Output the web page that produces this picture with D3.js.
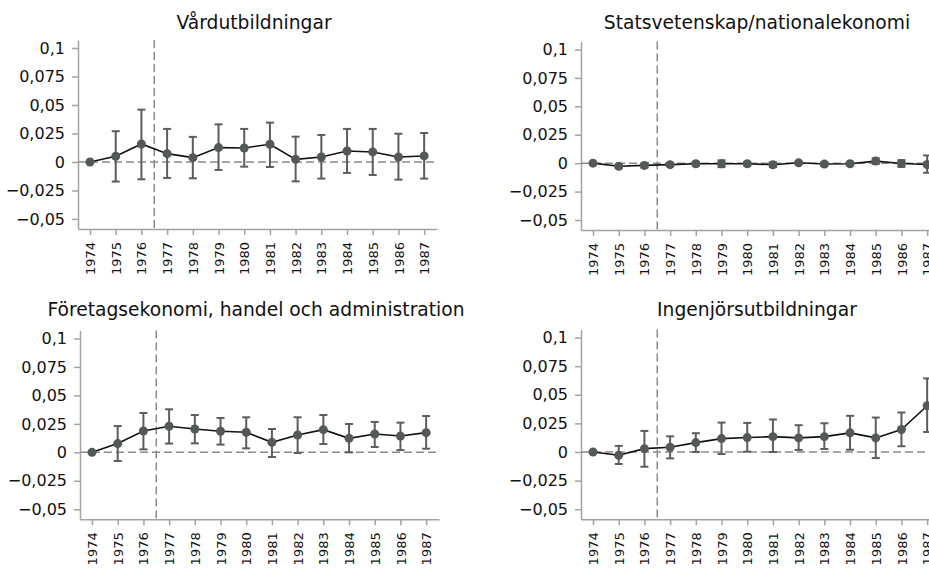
<!DOCTYPE html>
<html>
<head>
<meta charset="utf-8">
<script src="https://cdn.jsdelivr.net/npm/d3@7"></script>
<style>
  html, body { margin: 0; padding: 0; background: #fff; }
  svg { display: block; }
</style>
</head>
<body>
<svg id="chart" width="929" height="572"></svg>
<script>
const years = [1974,1975,1976,1977,1978,1979,1980,1981,1982,1983,1984,1985,1986,1987];
const yTicks = [-0.05,-0.025,0,0.025,0.05,0.075,0.1];
const reformYear = 1976.5;

const titles = ["Vårdutbildningar","Statsvetenskap/nationalekonomi","Företagsekonomi, handel och administration","Ingenjörsutbildningar"];

const vardEst  = [0,0.005,0.0158,0.0073,0.0038,0.0126,0.0123,0.0155,0.0023,0.0044,0.0096,0.0088,0.0044,0.0053];
const vardLo   = [0,-0.0172,-0.0152,-0.014,-0.0143,-0.007,-0.0041,-0.0044,-0.017,-0.0146,-0.0096,-0.0114,-0.0155,-0.0146];
const vardHi   = [0,0.027,0.0459,0.029,0.022,0.033,0.029,0.0345,0.0222,0.0237,0.029,0.029,0.0248,0.0254];

const statsEst = [0,-0.0027,-0.002,-0.0013,-0.0005,-0.0005,-0.0005,-0.0014,0.0003,-0.0008,-0.0005,0.0018,-0.0003,-0.0012];
const statsLo  = [0,-0.0042,-0.004,-0.0028,-0.002,-0.0035,-0.002,-0.0034,-0.0007,-0.0023,-0.002,-0.0007,-0.0033,-0.0085];
const statsHi  = [0,-0.0012,0,0.0002,0.001,0.0025,0.001,0.0006,0.0013,0.0007,0.001,0.0043,0.0027,0.0068];

const foretEst = [0,0.0077,0.0187,0.0229,0.0205,0.0185,0.0176,0.0088,0.0152,0.0199,0.0123,0.0161,0.0143,0.0173];
const foretLo  = [0,-0.0076,0.0026,0.0077,0.0079,0.0068,0.0035,-0.0041,-0.0006,0.0073,0,0.0047,0.002,0.0032];
const foretHi  = [0,0.0231,0.0346,0.0378,0.0328,0.0302,0.0308,0.0205,0.0308,0.0328,0.0249,0.0267,0.0261,0.0319];

const ingEst   = [0,-0.0029,0.0029,0.0041,0.0082,0.0117,0.0126,0.0134,0.0123,0.0134,0.0167,0.0123,0.0196,0.0404];
const ingLo    = [0,-0.0105,-0.0129,-0.0056,0,-0.0018,0.0003,0,0.0018,0.0026,0.002,-0.0053,0.005,0.0175];
const ingHi    = [0,0.0053,0.0184,0.0137,0.0164,0.0257,0.0254,0.0284,0.0234,0.0251,0.0316,0.0301,0.0345,0.0643];

const series = [
  {est: vardEst, lo: vardLo, hi: vardHi},
  {est: statsEst, lo: statsLo, hi: statsHi},
  {est: foretEst, lo: foretLo, hi: foretHi},
  {est: ingEst, lo: ingLo, hi: ingHi}
];

const panels = [
  {x0: 78,  x1: 437, yTop: 40,    yBot: 229,   titleY: 29},
  {x0: 581, x1: 940, yTop: 41.5,  yBot: 230,   titleY: 29},
  {x0: 80,  x1: 439, yTop: 330.5, yBot: 519.3, titleY: 316},
  {x0: 581, x1: 940, yTop: 329.5, yBot: 519.3, titleY: 316}
];

const FONT = "'DejaVu Sans', Arial, sans-serif";
const fmt = v => (v === 0 ? "0" : String(v).replace(".", ",").replace("-", "\u2212"));

const svg = d3.select("#chart");
const axisCol = "#a3a3a3";
const refCol = "#8a8a8a";
const barCol = "#5a5e60";
const ptCol = "#53585a";

panels.forEach((p, i) => {
  const s = series[i];
  const x = d3.scaleLinear().domain([1973.533, 1987.5]).range([p.x0, p.x1]);
  const y = d3.scaleLinear().domain([-0.0588, 0.107]).range([p.yBot, p.yTop]);
  const g = svg.append("g");

  // title
  g.append("text")
    .attr("x", (p.x0 + p.x1) / 2 - 3.5)
    .attr("y", p.titleY)
    .attr("text-anchor", "middle")
    .attr("font-family", FONT)
    .attr("font-size", 18.7)
    .attr("fill", "#111")
    .text(titles[i]);

  // y axis
  const ya = g.append("g").attr("transform", `translate(${p.x0},0)`)
    .call(d3.axisLeft(y).tickValues(yTicks).tickFormat(fmt).tickSize(6).tickPadding(7).tickSizeOuter(0));
  ya.select(".domain").attr("stroke", axisCol).attr("stroke-width", 1.5);
  ya.selectAll(".tick line").attr("stroke", axisCol).attr("stroke-width", 1.5);
  ya.selectAll(".tick text").attr("font-family", FONT).attr("font-size", 16).attr("fill", "#111");

  // x axis
  const xa = g.append("g").attr("transform", `translate(0,${p.yBot})`)
    .call(d3.axisBottom(x).tickValues(years).tickFormat(d3.format("d")).tickSize(6).tickPadding(6).tickSizeOuter(0));
  xa.select(".domain").attr("stroke", axisCol).attr("stroke-width", 1.5);
  xa.selectAll(".tick line").attr("stroke", axisCol).attr("stroke-width", 1.5);
  xa.selectAll(".tick text")
    .attr("font-family", FONT).attr("font-size", 13).attr("fill", "#111")
    .attr("transform", "rotate(-90)")
    .attr("text-anchor", "end")
    .attr("dy", "0.35em")
    .attr("x", -13)
    .attr("y", 0);

  // reference lines
  g.append("line")
    .attr("x1", p.x0).attr("x2", p.x1)
    .attr("y1", y(0)).attr("y2", y(0))
    .attr("stroke", refCol).attr("stroke-width", 1.5).attr("stroke-dasharray", "8,4");
  g.append("line")
    .attr("x1", x(reformYear)).attr("x2", x(reformYear))
    .attr("y1", p.yTop).attr("y2", p.yBot)
    .attr("stroke", refCol).attr("stroke-width", 1.5).attr("stroke-dasharray", "8,4");

  const data = years.map((yr, k) => ({yr, est: s.est[k], lo: s.lo[k], hi: s.hi[k]}));

  // error bars
  const eb = g.append("g").selectAll("g").data(data.filter(d => d.hi !== d.lo)).join("g");
  eb.append("line")
    .attr("x1", d => x(d.yr)).attr("x2", d => x(d.yr))
    .attr("y1", d => y(d.lo)).attr("y2", d => y(d.hi))
    .attr("stroke", barCol).attr("stroke-width", 2);
  eb.append("line")
    .attr("x1", d => x(d.yr) - 4).attr("x2", d => x(d.yr) + 4)
    .attr("y1", d => y(d.lo)).attr("y2", d => y(d.lo))
    .attr("stroke", barCol).attr("stroke-width", 2);
  eb.append("line")
    .attr("x1", d => x(d.yr) - 4).attr("x2", d => x(d.yr) + 4)
    .attr("y1", d => y(d.hi)).attr("y2", d => y(d.hi))
    .attr("stroke", barCol).attr("stroke-width", 2);

  // line
  g.append("path").datum(data)
    .attr("fill", "none").attr("stroke", "#111").attr("stroke-width", 1.6)
    .attr("d", d3.line().x(d => x(d.yr)).y(d => y(d.est)));

  // points
  g.append("g").selectAll("circle").data(data).join("circle")
    .attr("cx", d => x(d.yr)).attr("cy", d => y(d.est)).attr("r", 4.5)
    .attr("fill", ptCol);
});
</script>
</body>
</html>
